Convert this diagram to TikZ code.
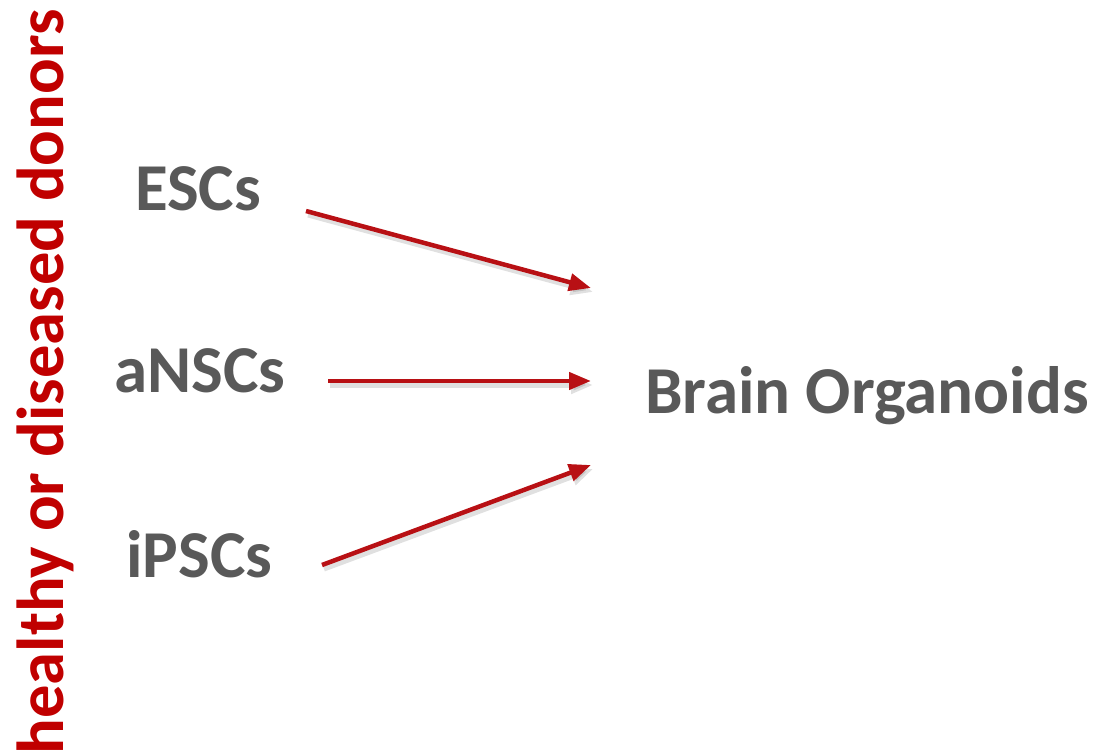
\documentclass[tikz,border=0pt]{standalone}
\usepackage{fontspec}
\setmainfont{Carlito}
\usetikzlibrary{arrows.meta}
\definecolor{donorred}{HTML}{C00000}
\definecolor{arrowred}{HTML}{B81014}
\definecolor{labelgray}{HTML}{595959}
\tikzset{
  cell/.style={inner sep=0pt, anchor=base west, text=labelgray,
    font=\fontsize{67}{80}\selectfont\bfseries},
  flow/.style={draw=arrowred, line width=4.5pt,
    -{Triangle[length=22pt,width=17pt]}},
  flowshade/.style={draw=black, opacity=0.12, line width=5pt,
    -{Triangle[length=22pt,width=17pt]}},
}
\begin{document}
\begin{tikzpicture}[x=1pt,y=-1pt]
  \useasboundingbox (0,0) rectangle (1095,754);
  % rotated side label
  \node[inner sep=0pt, anchor=base, rotate=90, text=donorred,
        font=\fontsize{66.5}{80}\selectfont\bfseries] (donors) at (63,382)
        {healthy or diseased donors};
  % cell sources and target
  \node[cell] (esc)   at (135,211) {ESCs};
  \node[cell] (ansc)  at (114,392) {aNSCs};
  \node[cell] (ipsc)  at (126,577) {iPSCs};
  \node[cell] (brain) at (645,413) {Brain Organoids};
  % arrow ends
  \coordinate (esc-a)  at (306,211);
  \coordinate (ansc-a) at (328,381);
  \coordinate (ipsc-a) at (322,565);
  \coordinate (in-1) at (591,288);
  \coordinate (in-2) at (591,381);
  \coordinate (in-3) at (591,465);
  % soft shadows
  \foreach \s/\t in {esc-a/in-1, ansc-a/in-2, ipsc-a/in-3}
    \draw[flowshade] ([shift={(2,4)}]\s) -- ([shift={(2,4)}]\t);
  % arrows
  \draw[flow] (esc-a)  -- (in-1);
  \draw[flow] (ansc-a) -- (in-2);
  \draw[flow] (ipsc-a) -- (in-3);
\end{tikzpicture}
\end{document}
